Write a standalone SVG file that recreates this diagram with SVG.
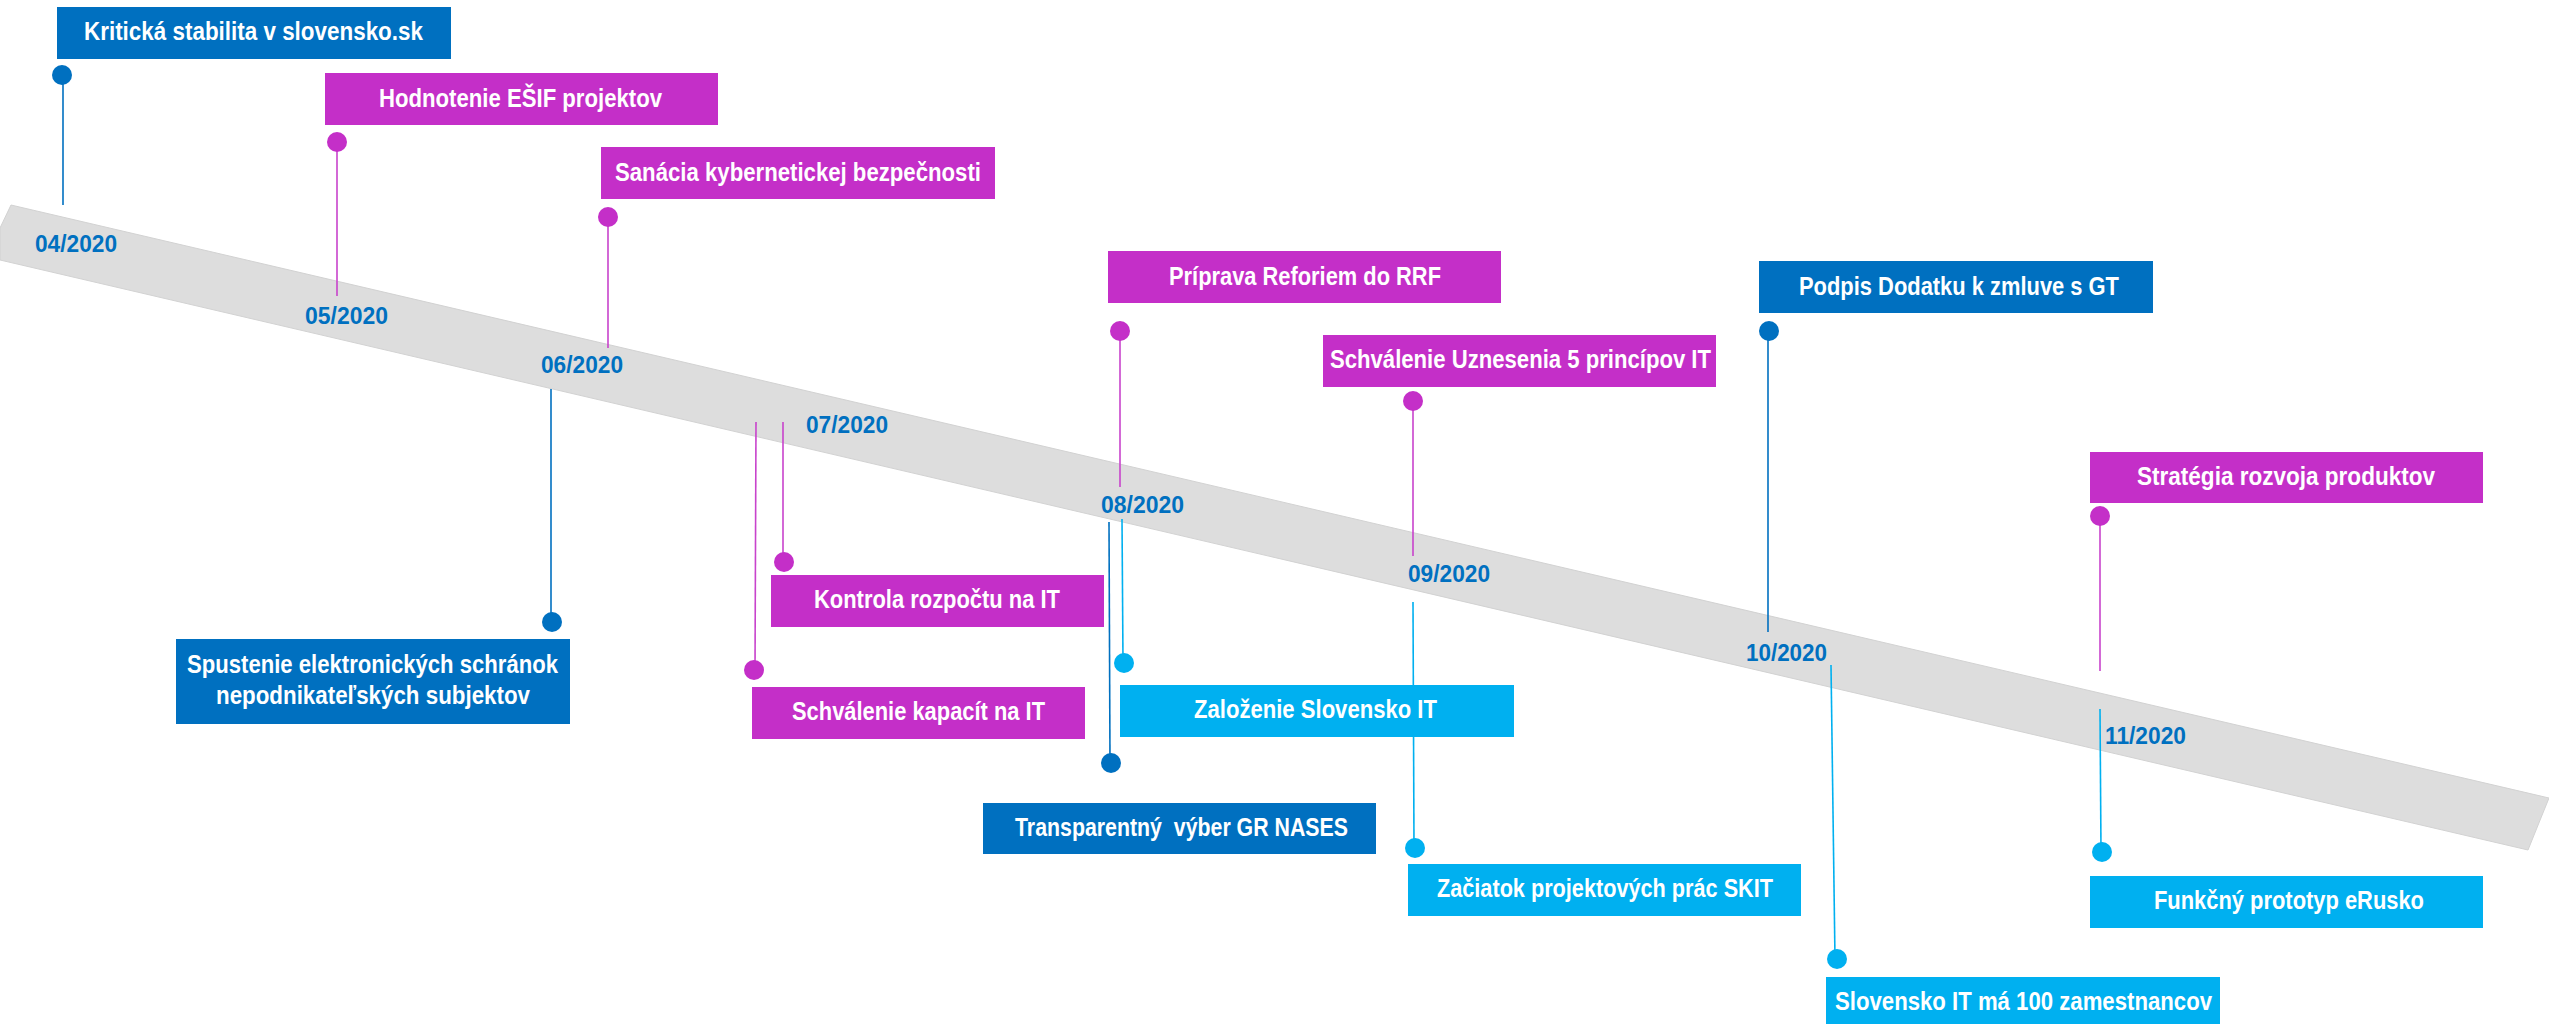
<svg xmlns="http://www.w3.org/2000/svg" width="2549" height="1024" viewBox="0 0 2549 1024">
<style>
.t{font-family:"Liberation Sans Narrow","Liberation Sans",Arial,sans-serif;font-weight:bold;font-size:25px;fill:#ffffff}
.m{font-family:"Liberation Sans Narrow","Liberation Sans",Arial,sans-serif;font-weight:bold;font-size:24.5px;fill:#0070C0}
.db{fill:#0070C0}.mg{fill:#C42FC8}.lb{fill:#00B0F0}
.ldb{stroke:#0070C0;stroke-width:1.6;fill:none}
.lmg{stroke:#C843CC;stroke-width:1.6;fill:none}
.llb{stroke:#00B0F0;stroke-width:1.6;fill:none}
</style>
<rect width="2549" height="1024" fill="#ffffff"/>
<g id="timeline">
<polygon points="11,205 2549,798 2528,850 0,260 0,228" fill="#DDDDDD" stroke="#D2D2D2" stroke-width="1"/>
</g>
<g id="connectors">
<line class="ldb" x1="63" y1="75" x2="63" y2="205"/>
<line class="lmg" x1="337" y1="142" x2="337" y2="296"/>
<line class="lmg" x1="608" y1="217" x2="608" y2="348"/>
<line class="ldb" x1="551" y1="389" x2="551" y2="622"/>
<line class="lmg" x1="783" y1="422" x2="783" y2="562"/>
<line class="lmg" x1="756" y1="422" x2="755" y2="670"/>
<line class="lmg" x1="1120" y1="331" x2="1120" y2="487"/>
<line class="ldb" x1="1109" y1="522" x2="1110" y2="763"/>
<line class="llb" x1="1122" y1="519" x2="1123" y2="663"/>
<line class="lmg" x1="1413" y1="401" x2="1413" y2="556"/>
<line class="llb" x1="1413" y1="602" x2="1414" y2="848"/>
<line class="ldb" x1="1768" y1="331" x2="1768" y2="632"/>
<line class="llb" x1="1831" y1="665" x2="1835" y2="959"/>
<line class="lmg" x1="2100" y1="516" x2="2100" y2="671"/>
<line class="llb" x1="2100" y1="709" x2="2101" y2="852"/>
<circle class="db" cx="62" cy="75" r="10"/>
<circle class="mg" cx="337" cy="142" r="10"/>
<circle class="mg" cx="608" cy="217" r="10"/>
<circle class="db" cx="552" cy="622" r="10"/>
<circle class="mg" cx="784" cy="562" r="10"/>
<circle class="mg" cx="754" cy="670" r="10"/>
<circle class="mg" cx="1120" cy="331" r="10"/>
<circle class="db" cx="1111" cy="763" r="10"/>
<circle class="lb" cx="1124" cy="663" r="10"/>
<circle class="mg" cx="1413" cy="401" r="10"/>
<circle class="lb" cx="1415" cy="848" r="10"/>
<circle class="db" cx="1769" cy="331" r="10"/>
<circle class="lb" cx="1837" cy="959" r="10"/>
<circle class="mg" cx="2100" cy="516" r="10"/>
<circle class="lb" cx="2102" cy="852" r="10"/>
</g>
<g id="months">
<text class="m" x="35" y="252" textLength="82" lengthAdjust="spacingAndGlyphs">04/2020</text>
<text class="m" x="305" y="324" textLength="83" lengthAdjust="spacingAndGlyphs">05/2020</text>
<text class="m" x="541" y="373" textLength="82" lengthAdjust="spacingAndGlyphs">06/2020</text>
<text class="m" x="806" y="433" textLength="82" lengthAdjust="spacingAndGlyphs">07/2020</text>
<text class="m" x="1101" y="513" textLength="83" lengthAdjust="spacingAndGlyphs">08/2020</text>
<text class="m" x="1408" y="582" textLength="82" lengthAdjust="spacingAndGlyphs">09/2020</text>
<text class="m" x="1746" y="661" textLength="81" lengthAdjust="spacingAndGlyphs">10/2020</text>
<text class="m" x="2105" y="744" textLength="81" lengthAdjust="spacingAndGlyphs">11/2020</text>
</g>
<g id="n1"><rect class="db" x="57" y="7" width="394" height="52"/><text class="t" x="84" y="40" textLength="339" lengthAdjust="spacingAndGlyphs">Kritická stabilita v slovensko.sk</text></g>
<g id="n2"><rect class="mg" x="325" y="73" width="393" height="52"/><text class="t" x="379" y="107" textLength="283" lengthAdjust="spacingAndGlyphs">Hodnotenie EŠIF projektov</text></g>
<g id="n3"><rect class="mg" x="601" y="147" width="394" height="52"/><text class="t" x="615" y="181" textLength="366" lengthAdjust="spacingAndGlyphs">Sanácia kybernetickej bezpečnosti</text></g>
<g id="n4"><rect class="db" x="176" y="639" width="394" height="85"/><text class="t" x="187" y="673" textLength="371" lengthAdjust="spacingAndGlyphs">Spustenie elektronických schránok</text><text class="t" x="216" y="704" textLength="314" lengthAdjust="spacingAndGlyphs">nepodnikateľských subjektov</text></g>
<g id="n5"><rect class="mg" x="771" y="575" width="333" height="52"/><text class="t" x="814" y="608" textLength="246" lengthAdjust="spacingAndGlyphs">Kontrola rozpočtu na IT</text></g>
<g id="n6"><rect class="mg" x="752" y="687" width="333" height="52"/><text class="t" x="792" y="720" textLength="253" lengthAdjust="spacingAndGlyphs">Schválenie kapacít na IT</text></g>
<g id="n7"><rect class="mg" x="1108" y="251" width="393" height="52"/><text class="t" x="1169" y="285" textLength="272" lengthAdjust="spacingAndGlyphs">Príprava Reforiem do RRF</text></g>
<g id="n8"><rect class="mg" x="1323" y="335" width="393" height="52"/><text class="t" x="1330" y="368" textLength="381" lengthAdjust="spacingAndGlyphs">Schválenie Uznesenia 5 princípov IT</text></g>
<g id="n9"><rect class="db" x="1759" y="261" width="394" height="52"/><text class="t" x="1799" y="295" textLength="320" lengthAdjust="spacingAndGlyphs">Podpis Dodatku k zmluve s GT</text></g>
<g id="n10"><rect class="mg" x="2090" y="452" width="393" height="51"/><text class="t" x="2137" y="485" textLength="298" lengthAdjust="spacingAndGlyphs">Stratégia rozvoja produktov</text></g>
<g id="n11"><rect class="lb" x="1120" y="685" width="394" height="52"/><text class="t" x="1194" y="718" textLength="243" lengthAdjust="spacingAndGlyphs">Založenie Slovensko IT</text></g>
<g id="n12"><rect class="db" x="983" y="803" width="393" height="51"/><text class="t" x="1015" y="836" textLength="333" lengthAdjust="spacingAndGlyphs" xml:space="preserve">Transparentný  výber GR NASES</text></g>
<g id="n13"><rect class="lb" x="1408" y="864" width="393" height="52"/><text class="t" x="1437" y="897" textLength="336" lengthAdjust="spacingAndGlyphs">Začiatok projektových prác SKIT</text></g>
<g id="n14"><rect class="lb" x="1826" y="977" width="394" height="52"/><text class="t" x="1835" y="1010" textLength="377" lengthAdjust="spacingAndGlyphs">Slovensko IT má 100 zamestnancov</text></g>
<g id="n15"><rect class="lb" x="2090" y="876" width="393" height="52"/><text class="t" x="2154" y="909" textLength="270" lengthAdjust="spacingAndGlyphs">Funkčný prototyp eRusko</text></g>
</svg>
